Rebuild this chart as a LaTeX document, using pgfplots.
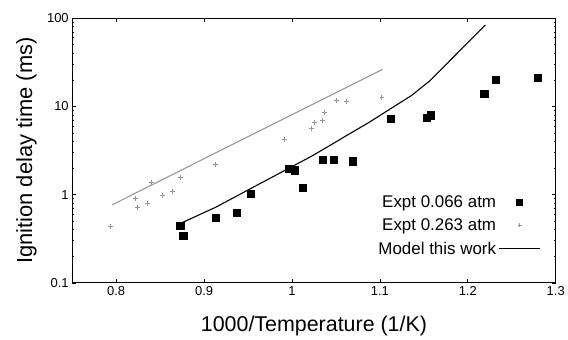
\documentclass[border=0pt]{standalone}
\usepackage{pgfplots}
\pgfplotsset{compat=1.18}
\usepackage{fontspec}
\setmainfont{Liberation Sans}
\definecolor{lgray}{RGB}{150,150,150}
\begin{document}
\begin{tikzpicture}
\begin{axis}[
  name=ax,
  scale only axis,
  width=485.5bp, height=265.7bp,
  xmin=0.75, xmax=1.3,
  ymode=log, ymin=0.1, ymax=100,
  xtick={0.8,0.9,1,1.1,1.2,1.3},
  xticklabels={0.8,0.9,1,1.1,1.2,1.3},
  ytick={0.1,1,10,100},
  yticklabels={0.1,1,10,100},
  minor ytick={0.2,0.3,0.4,0.5,0.6,0.7,0.8,0.9,2,3,4,5,6,7,8,9,20,30,40,50,60,70,80,90},
  tick align=inside,
  major tick length=4bp,
  minor tick length=2bp,
  tick style={black, line width=0.6bp},
  axis line style={line width=0.9bp},
  /pgf/number format/assume math mode=true,
  tick label style={font=\fontsize{13bp}{15bp}\selectfont},
  xlabel={1000/Temperature (1/K)},
  ylabel={Ignition delay time (ms)},
  xlabel style={font=\fontsize{21.5bp}{24bp}\selectfont, at={(axis description cs:0.5,-0.1844)}, anchor=base},
  ylabel style={font=\fontsize{22bp}{24bp}\selectfont, at={(axis description cs:-0.0830,0.5)}, anchor=base, rotate=0},
  legend plot pos=right,
  legend cell align=right,
  legend style={draw=none, fill=none, font=\fontsize{17bp}{20bp}\selectfont,
    at={(axis description cs:0.97,0.095)}, anchor=south east,
    row sep=6bp, inner sep=0pt},
  legend image code/.code={\draw[mark repeat=2,mark phase=2,#1] plot coordinates {(0bp,0bp) (21bp,0bp) (42bp,0bp)};},
]
\addplot[lgray, line width=1.1bp, forget plot] coordinates {
(0.7955,0.767) (0.9125,2.95) (1.103,26.3)
};
\addplot[black, line width=1.1bp, forget plot] coordinates {
(0.8748,0.48) (0.9133,0.72) (0.955,1.2) (0.996,1.98) (1.0227,2.74) (1.0454,3.72)
(1.0643,4.82) (1.087,6.53) (1.112,9.4) (1.136,13.3) (1.157,19.6) (1.22,84)
};
\addplot[only marks, mark=square*, mark size=3.6bp, black, forget plot] coordinates {
(0.8729,0.444) (0.8763,0.346) (0.9136,0.543) (0.9374,0.624) (0.9533,1.03)
(0.996,1.95) (1.003,1.89) (1.012,1.19) (1.0345,2.47) (1.047,2.49) (1.0688,2.39)
(1.112,7.24) (1.1537,7.5) (1.158,7.96) (1.2186,14.0) (1.2315,20.1) (1.2794,21.4)
};
\addplot[only marks, mark=+, mark size=2.5bp, lgray, line width=1bp, forget plot] coordinates {
(0.794,0.44) (0.822,0.91) (0.824,0.71) (0.836,0.80) (0.840,1.37) (0.853,0.98)
(0.864,1.09) (0.873,1.56) (0.9125,2.17) (0.991,4.27) (1.0224,5.58) (1.0254,6.53)
(1.035,6.98) (1.0375,8.6) (1.051,11.6) (1.0617,11.4) (1.1024,12.5)
};
\addlegendimage{only marks, mark=square*, mark size=3bp, black}
\addlegendentry{Expt 0.066 atm}
\addlegendimage{only marks, mark=+, mark size=2bp, lgray, line width=0.8bp}
\addlegendentry{Expt 0.263 atm}
\addlegendimage{black, line width=1.1bp}
\addlegendentry{Model this work}
\end{axis}
\path (ax.south west) ++(-72.5bp,-53bp) coordinate (bl);
\path (ax.north east) ++(10bp,18.3bp) coordinate (tr);
\path[use as bounding box] (bl) rectangle (tr);
\end{tikzpicture}
\end{document}
